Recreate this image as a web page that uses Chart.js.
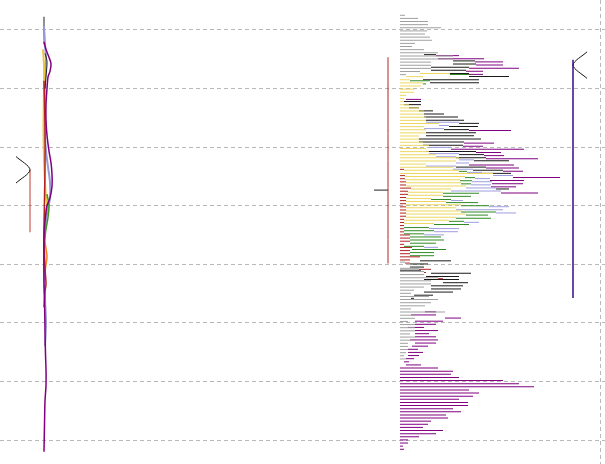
<!DOCTYPE html>
<html>
<head>
<meta charset="utf-8">
<script src="https://cdn.jsdelivr.net/npm/chart.js@4.4.1/dist/chart.umd.min.js"></script>
<style>
  html, body { margin: 0; padding: 0; background: #fff; }
  #wrap { width: 605px; height: 464px; position: relative; }
</style>
</head>
<body>
<div id="wrap"><canvas id="profile"></canvas></div>
<script>
'use strict';

// price ladder of the volume profile (top row first)
const topPrice = 2040;
const tickSize = 4;
const rowCount = 138;
const priceLevels = Array.from({length: rowCount}, (_, i) => topPrice - i * tickSize);

// volume per price row, one array per colour group
const grayVol = [5,18,28,28,41,27,25,30,32,15,
  12,24,38,53,53,31,31,31,20,6,
  0,0,0,0,0,0,0,0,0,0,
  0,0,0,0,0,0,0,0,0,0,
  0,0,0,0,0,0,0,0,0,0,
  0,0,0,0,0,0,0,0,0,0,
  0,0,0,0,0,0,0,0,0,0,
  0,0,0,0,0,0,0,0,0,5,
  0,19,24,24,38,31,31,24,14,11,
  29,38,31,25,11,45,15,15,8,15,
  15,15,10,15,12,8,8,8,6,4,
  6,0,0,0,0,0,0,0,0,0,
  0,0,0,0,0,0,0,0,0,0,
  0,0,0,0,0,0,0,0];
const redVol = [0,0,0,0,0,0,0,0,0,0,
  0,0,0,0,0,0,0,0,0,0,
  0,0,0,0,0,0,0,0,0,0,
  0,0,0,0,0,0,0,0,0,0,
  0,0,0,0,0,0,0,0,0,4,
  0,5,5,6,6,11,8,8,6,6,
  6,6,6,6,6,4,4,4,4,4,
  10,10,10,4,12,10,10,20,10,5,
  0,12,2,0,5,0,0,0,0,0,
  0,0,0,0,0,0,0,0,0,0,
  0,0,0,0,0,0,0,0,0,0,
  0,0,0,0,0,0,0,0,0,0,
  0,0,0,0,0,0,0,0,0,0,
  0,0,0,0,0,0,0,0];
const yellowVol = [0,0,0,0,0,0,0,0,0,0,
  0,0,0,0,0,0,0,0,30,17,
  10,23,21,14,14,6,4,4,9,19,
  24,24,26,26,39,24,26,26,19,19,
  23,29,26,29,36,59,56,26,53,55,
  93,60,55,55,60,40,35,35,25,40,
  55,50,55,60,50,45,30,0,0,0,
  0,0,0,0,0,0,0,0,0,0,
  0,0,0,0,0,0,0,0,0,0,
  0,0,0,0,0,0,0,0,0,0,
  0,0,0,0,0,0,0,0,0,0,
  0,0,0,0,0,0,0,0,0,0,
  0,0,0,0,0,0,0,0,0,0,
  0,0,0,0,0,0,0,0];
const greenVol = [0,0,0,0,0,0,0,0,0,0,
  0,0,0,0,0,0,0,0,19,0,
  20,3,0,0,0,0,0,0,0,0,
  0,0,0,0,0,0,0,0,0,0,
  0,0,0,0,0,0,0,0,0,8,
  0,10,12,10,0,0,36,28,20,32,
  28,0,35,22,35,15,35,25,30,20,
  31,34,26,20,34,24,24,0,0,0,
  0,0,0,0,0,0,0,0,0,0,
  0,0,0,0,0,0,0,0,0,0,
  0,0,0,0,0,0,0,0,0,0,
  0,0,0,0,0,0,0,0,0,0,
  0,0,0,0,0,0,0,0,0,0,
  0,0,0,0,0,0,0,0];
const lavenderVol = [0,0,0,0,0,0,0,0,0,0,
  0,0,0,0,0,0,0,0,0,0,
  0,0,0,0,0,0,0,0,0,0,
  0,0,0,33,10,20,0,0,0,0,
  0,22,0,30,20,15,13,30,20,15,
  20,15,20,20,30,50,0,0,12,0,
  20,47,20,0,0,15,0,30,24,20,
  0,0,0,14,0,0,0,0,0,0,
  0,0,0,0,0,0,0,0,0,0,
  0,0,0,0,0,0,0,0,0,0,
  0,0,0,0,0,0,0,0,0,0,
  0,0,0,0,0,0,0,0,0,0,
  0,0,0,0,0,0,0,0,0,0,
  0,0,0,0,0,0,0,0];
const blackVol = [0,0,0,0,0,0,0,0,0,0,
  0,12,0,22,23,38,35,38,40,56,
  49,0,0,0,0,0,17,17,10,14,
  20,34,38,20,29,25,50,48,62,45,
  40,0,50,25,30,35,0,30,30,29,
  0,0,0,0,13,0,0,0,0,0,
  0,0,0,0,0,0,0,0,0,0,
  0,0,0,0,0,0,0,31,18,14,
  21,40,33,35,25,32,30,29,19,3,
  0,0,0,0,0,0,0,0,0,0,
  0,0,0,0,0,0,0,0,0,0,
  0,0,0,0,0,0,0,0,0,0,
  0,0,0,0,0,0,0,0,0,0,
  0,0,0,0,0,0,0,0];
const purpleVol = [0,0,0,0,0,0,0,0,0,0,
  0,23,46,28,27,50,17,14,0,0,
  0,0,0,0,0,15,0,0,0,0,
  0,0,0,0,0,42,0,0,0,30,
  20,73,25,20,52,0,45,33,20,0,
  47,34,31,25,0,37,0,0,0,0,
  0,0,0,0,0,0,0,0,0,0,
  0,0,0,0,0,0,0,0,0,0,
  0,0,0,0,0,0,0,0,0,0,
  0,0,0,11,25,16,28,21,16,23,
  14,21,28,21,16,10,15,11,8,5,
  15,38,53,51,59,103,119,134,69,79,
  73,59,68,68,53,61,46,48,31,28,
  23,43,36,19,8,8,3,4];

// left-hand delta lines: [value, price]
const grayLine = [[0,2042],[0,2025],[0.5,2006]];
const lavenderLine = [[0,2030],[1,2005],[2,1990],[1,1960],[0.5,1900],[2,1870],[4,1850],[6,1830],[6,1810],[3,1790],[1,1770],[0,1720],[1,1680],[2,1650],[1,1620]];
const yellowLine = [[-1,2000],[0,1980],[0,1950],[-0.5,1900],[0,1860],[1,1830],[2,1810],[3,1800],[1,1790],[0,1770]];
const greenLine = [[3,1815],[5,1800],[4,1785],[2,1770],[0,1750]];
const orangeLine = [[0,1760],[2,1745],[3,1735],[2,1725],[1,1715]];
const redLine = [[0,1960],[1,1900],[1,1850],[0,1760],[1,1720],[2,1700],[1,1690],[0,1670]];
const blackLine = [[1,1995],[3,1985],[2,1965],[1,1950]];
const purpleLine = [[0,2010],[2,2000],[5,1990],[7,1982],[6,1972],[4,1965],[3,1950],[2,1930],[2,1910],[3,1890],[5,1870],[7,1855],[8,1840],[8,1825],[6,1810],[3,1800],[1,1780],[0,1760],[0,1700],[0.5,1680],[1,1640],[1.5,1610],[2,1590],[2,1570],[1,1550],[0.5,1520],[0,1485]];

// levels
const vaHigh = 1990;
const vaLow = 1726;
const poc = 1820;
const leftMarkPrice = 1846;
const leftRangeLow = 1766;
const rightMarkPrice = 1980;
const rightRangeHigh = 1987;
const rightRangeLow = 1682;
const gridStep = 75;

function toPoints(pairs){
  return pairs.map(p => ({x: p[0], y: p[1]}));
}
function barSet(label, vols, color){
  return {
    type: 'bar',
    label: label,
    data: priceLevels.map((p, i) => ({x: vols[i] || null, y: p})),
    backgroundColor: color,
    borderWidth: 0,
    barThickness: 1,
    inflateAmount: 0,
    xAxisID: 'xv',
    yAxisID: 'y'
  };
}
function lineSet(label, pairs, color, width, axis){
  return {
    type: 'line',
    label: label,
    data: toPoints(pairs),
    borderColor: color,
    borderWidth: width,
    pointRadius: 0,
    tension: 0.3,
    fill: false,
    xAxisID: axis || 'xl',
    yAxisID: 'y'
  };
}

const datasets = [
  lineSet('left mark', [[-28,leftMarkPrice+17],[-14,leftMarkPrice],[-28,leftMarkPrice-17]], '#111', 1),
  lineSet('left range', [[-14,leftMarkPrice],[-14,leftRangeLow]], '#c0392b', 1),
  lineSet('va line', [[-12,vaHigh],[-12,vaLow]], '#b22222', 1, 'xv'),
  lineSet('poc', [[-26,poc],[-12,poc]], '#222', 1, 'xv'),
  lineSet('right range', [[173,rightRangeHigh],[173,rightRangeLow]], '#3a0a8a', 1.5, 'xv'),
  lineSet('right mark', [[187,rightMarkPrice+17],[173,rightMarkPrice],[187,rightMarkPrice-17]], '#111', 1, 'xv'),
  lineSet('purple', purpleLine, '#800080', 1.5),
  lineSet('black', blackLine, '#222', 1),
  lineSet('red', redLine, '#b22222', 1.5),
  lineSet('orange', orangeLine, '#f08020', 1.5),
  lineSet('green', greenLine, '#3a9a20', 1.5),
  lineSet('yellow', yellowLine, '#e8c840', 2),
  lineSet('lavender', lavenderLine, '#9a9ad8', 2),
  lineSet('gray', grayLine, '#909090', 2),
  barSet('gray', grayVol, '#a0a0a0'),
  barSet('red', redVol, '#b22222'),
  barSet('yellow', yellowVol, '#ecd860'),
  barSet('green', greenVol, '#2e8b22'),
  barSet('lavender', lavenderVol, '#9d9de0'),
  barSet('black', blackVol, '#1a1a1a'),
  barSet('purple', purpleVol, '#800080')
];

new Chart(document.getElementById('profile'), {
  type: 'bar',
  data: {datasets: datasets},
  options: {
    indexAxis: 'y',
    responsive: true,
    maintainAspectRatio: false,
    animation: false,
    layout: {padding: 0},
    plugins: {legend: {display: false}, tooltip: {enabled: false}},
    scales: {
      y: {
        type: 'linear',
        offset: false,
        min: 1469.3,
        max: 2063.4,
        ticks: {display: false, stepSize: gridStep},
        grid: {offset: false, color: '#b8b8b8', drawTicks: false, tickLength: 0},
        border: {display: false, dash: [4, 3]},
        afterBuildTicks: axis => {
          axis.ticks = axis.ticks.filter(t => t.value % gridStep === 0);
        }
      },
      xv: {
        type: 'linear',
        position: 'bottom',
        stacked: true,
        min: -400,
        max: 205,
        ticks: {display: false},
        grid: {color: '#b8b8b8', drawTicks: false, tickLength: 0},
        border: {display: false, dash: [4, 3]},
        afterBuildTicks: axis => {
          axis.ticks = [{value: 200}];
        }
      },
      xl: {
        type: 'linear',
        display: false,
        min: -44,
        max: 561
      }
    }
  }
});
</script>
</body>
</html>
